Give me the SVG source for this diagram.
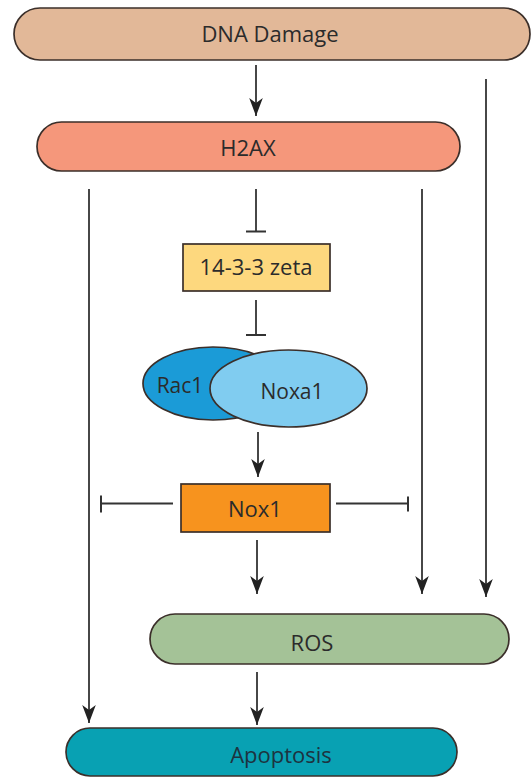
<svg xmlns="http://www.w3.org/2000/svg" width="532" height="778" viewBox="0 0 532 778">
<style>
.box{stroke:#3b2f2a;stroke-width:1.7}
.lbl{font-family:"Open Sans","Liberation Sans",sans-serif;font-size:22px;fill:#2b2b2b;text-anchor:middle}
.sm{font-size:21px}
.con{stroke:#333;stroke-width:1.8;fill:none}
.bar{stroke:#333;stroke-width:2;fill:none}
</style>
<defs>
<marker id="ah" markerWidth="20" markerHeight="16" viewBox="0 0 20 16" refX="19" refY="8" orient="auto" markerUnits="userSpaceOnUse">
<path d="M19,8 L1,1.2 L6,8 L1,14.8 Z" fill="#222"/>
</marker>
</defs>
<rect width="532" height="778" fill="#fff"/>
<g id="dna-damage">
<rect class="box" x="14" y="8" width="516" height="52" rx="26" fill="#e2b898"/>
<text class="lbl" x="270" y="42">DNA Damage</text>
</g>
<g id="h2ax">
<rect class="box" x="37" y="122" width="423" height="49" rx="24.5" fill="#f5977b"/>
<text class="lbl" x="248" y="156">H2AX</text>
</g>
<g id="zeta">
<rect class="box" x="183" y="244" width="147" height="47" fill="#fdd87e"/>
<text class="lbl" x="256" y="275">14-3-3 zeta</text>
</g>
<g id="rac1-noxa1">
<ellipse class="box" cx="213" cy="383.5" rx="70" ry="36.5" fill="#1b9bd7"/>
<ellipse class="box" cx="288.5" cy="388.5" rx="78.5" ry="38.5" fill="#80ccf0"/>
<text class="lbl sm" x="180" y="393">Rac1</text>
<text class="lbl sm" x="292" y="399">Noxa1</text>
</g>
<g id="nox1">
<rect class="box" x="181" y="484" width="149" height="48" fill="#f7931e"/>
<text class="lbl" x="255" y="517">Nox1</text>
</g>
<g id="ros">
<rect class="box" x="150" y="614" width="359" height="50" rx="25" fill="#a4c297"/>
<text class="lbl" x="312" y="651">ROS</text>
</g>
<g id="apoptosis">
<rect class="box" x="66" y="728" width="391" height="48" rx="24" fill="#08a1b3"/>
<text class="lbl" x="281" y="763" style="fill:#1d3340">Apoptosis</text>
</g>
<g id="connectors">
<line class="con" x1="256" y1="65" x2="256" y2="116" marker-end="url(#ah)"/>
<line class="con" x1="486" y1="79" x2="486" y2="597" marker-end="url(#ah)"/>
<line class="con" x1="89" y1="189" x2="89" y2="723" marker-end="url(#ah)"/>
<line class="con" x1="422" y1="189" x2="422" y2="594" marker-end="url(#ah)"/>
<line class="con" x1="256" y1="189" x2="256" y2="231.5"/>
<line class="bar" x1="246" y1="231.5" x2="266" y2="231.5"/>
<line class="con" x1="256" y1="300" x2="256" y2="335"/>
<line class="bar" x1="246" y1="335" x2="266" y2="335"/>
<line class="con" x1="258" y1="432" x2="258" y2="477" marker-end="url(#ah)"/>
<line class="con" x1="173" y1="503.5" x2="101" y2="503.5"/>
<line class="bar" x1="101" y1="495.5" x2="101" y2="512.5"/>
<line class="con" x1="336" y1="503.5" x2="408" y2="503.5"/>
<line class="bar" x1="408" y1="496.5" x2="408" y2="511.5"/>
<line class="con" x1="257" y1="540" x2="257" y2="594" marker-end="url(#ah)"/>
<line class="con" x1="257" y1="672" x2="257" y2="725" marker-end="url(#ah)"/>
</g>
</svg>
